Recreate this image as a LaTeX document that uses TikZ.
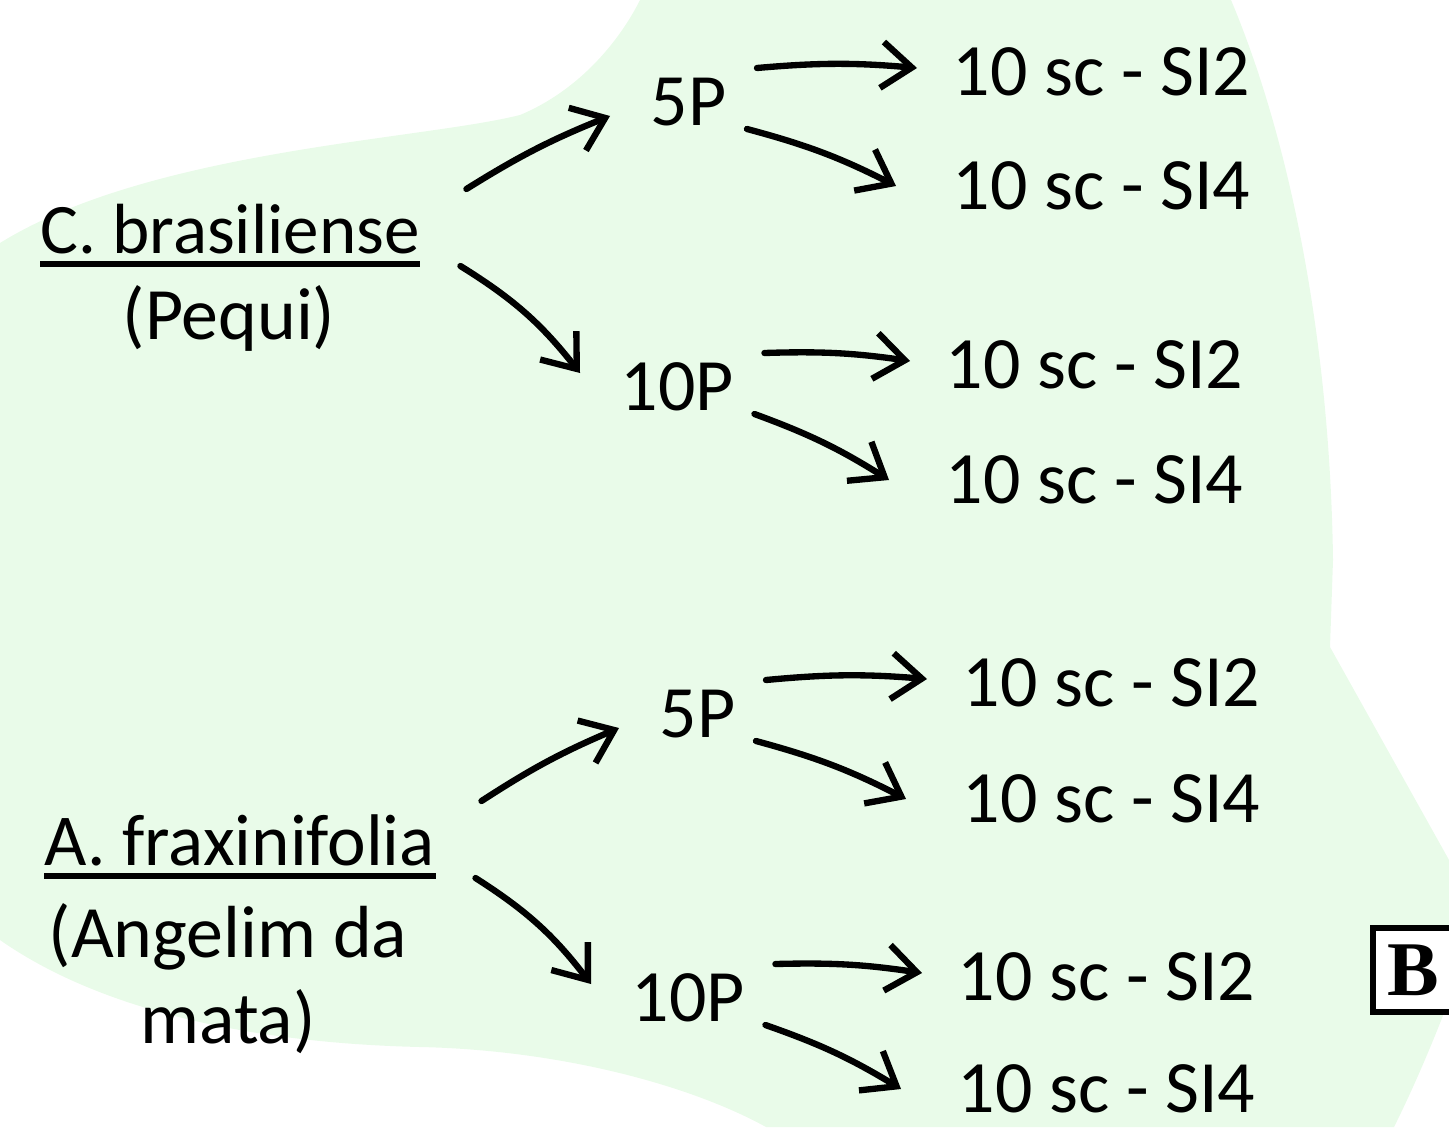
\documentclass[tikz,border=0pt]{standalone}
\usepackage{fontspec}
\setmainfont{Carlito}
\newfontfamily\labelfont{Liberation Serif}
\usetikzlibrary{arrows.meta}
\definecolor{BlobGreen}{HTML}{E9FBE9}

\tikzset{
  txt/.style={inner sep=0pt, anchor=base west, font=\fontsize{21}{24.2}\selectfont},
  sptxt/.style={txt, font=\fontsize{20.2}{24.2}\selectfont},
  ctxt/.style={txt, anchor=base, align=center},
  arr/.style={line width=1.8pt, line cap=round, -{Straight Barb[length=3mm,width=4.6mm]}},
  uline/.style={line width=1.5pt},
}

\begin{document}
\begin{tikzpicture}[x=0.01cm,y=-0.01cm]
    \useasboundingbox (0,0) rectangle (1449,1127);
    % background blob
    \fill[BlobGreen] (0,243) .. controls (150,150) and (420,140) .. (520,115)
        .. controls (580,90) and (620,40) .. (640,0) -- (1231,0)
        .. controls (1290,140) and (1330,340) .. (1333,560) -- (1330,647) -- (1449,860)
        -- (1449,1000) .. controls (1430,1050) and (1410,1095) .. (1394,1127) -- (766,1127)
        .. controls (690,1085) and (560,1050) .. (420,1047)
        .. controls (250,1043) and (100,1010) .. (0,940) -- cycle;

    % C. brasiliense
    \node[sptxt] (st) at (40,253) {C. brasiliense};
    \node[ctxt] (ct) at (229,339) {(Pequi)};
    \node[txt] (p5t) at (650,125) {5P};
    \node[txt] (p10t) at (620,410) {10P};
    \node[txt] (p5t2) at (952,95) {10 sc - SI2};
    \node[txt] (p5t4) at (952,209) {10 sc - SI4};
    \node[txt] (p10t2) at (945,388) {10 sc - SI2};
    \node[txt] (p10t4) at (945,503) {10 sc - SI4};

    % A. fraxinifolia
    \node[sptxt, font=\fontsize{20.8}{24.2}\selectfont] (sb) at (44,865) {A. fraxinifolia};
    \node[ctxt] (cb) at (228,1043) {(Angelim da\\mata)};
    \node[txt] (p5b) at (659,737) {5P};
    \node[txt] (p10b) at (631,1021) {10P};
    \node[txt] (p5b2) at (962,706) {10 sc - SI2};
    \node[txt] (p5b4) at (962,822) {10 sc - SI4};
    \node[txt] (p10b2) at (957,1000) {10 sc - SI2};
    \node[txt] (p10b4) at (957,1112) {10 sc - SI4};

    \foreach \g in {t,b} {
        \draw[uline] ([shift={(0,11)}]s\g.base west) -- ([shift={(0,11)}]s\g.base east);
        \draw[arr] ([shift={(46,-64)}]s\g.base east) to[bend left=5] ([shift={(-40,-9)}]p5\g.base west);
        \draw[arr] ([shift={(40,13)}]s\g.base east) to[bend left=10] ([shift={(-40,-37)}]p10\g.base west);
        \foreach \p in {p5\g,p10\g} {
            \draw[arr] ([shift={(30,-57)}]\p.base east) to[bend left=5] ([shift={(-35,-27)}]\p2.base west);
            \draw[arr] ([shift={(20,4)}]\p.base east) to[bend left=6] ([shift={(-56,-23)}]\p4.base west);
        }
    }

    \node[draw, fill=white, line width=1.6pt, minimum width=0.8cm, minimum height=0.84cm,
          font=\labelfont\bfseries\fontsize{22}{24}\selectfont] (lbl) at (1413,970) {B};
\end{tikzpicture}
\end{document}
